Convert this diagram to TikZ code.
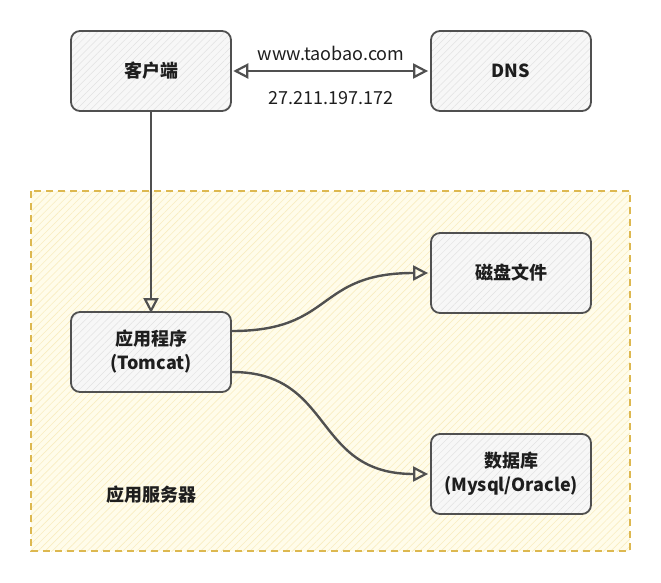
\documentclass[tikz,border=0pt]{standalone}
\usepackage{fontspec}
\setmainfont{Noto Sans CJK SC}
\usetikzlibrary{arrows.meta,patterns.meta}
\definecolor{strokegray}{HTML}{505050}
\definecolor{boxfill}{HTML}{F7F7F7}
\definecolor{boxhatch}{HTML}{E2E2E2}
\definecolor{zonefill}{HTML}{FFFCEA}
\definecolor{zonehatch}{HTML}{F9EDC0}
\definecolor{zoneline}{HTML}{DDB850}
\definecolor{txt}{HTML}{1E1E1E}
\tikzset{
  sketchbox/.style={draw=strokegray, line width=1.8pt, rounded corners=9pt,
    minimum width=160pt, minimum height=80pt, inner sep=0pt,
    preaction={fill=boxfill},
    pattern={Lines[angle=45,distance=5pt,line width=0.5pt]}, pattern color=boxhatch,
    font=\fontsize{18pt}{24pt}\selectfont\bfseries, text=txt, align=center},
  conn/.style={draw=strokegray, line width=2.4pt, -{Triangle[open,length=15pt,width=15pt,line width=2.2pt]}},
  lbl/.style={font=\fontsize{18pt}{20pt}\selectfont, text=txt, inner sep=0pt}
}
\begin{document}
\begin{tikzpicture}[x=1pt,y=-1pt]
\useasboundingbox (0,0) rectangle (661,582);
% zone
\path[preaction={fill=zonefill},
  pattern={Lines[angle=45,distance=5pt,line width=0.6pt]}, pattern color=zonehatch]
  (31,191) rectangle (630,551);
\draw[zoneline, line width=1.5pt, dash pattern=on 7pt off 5pt] (31,191) rectangle (630,551);
\node[font=\fontsize{18pt}{22pt}\selectfont\bfseries, text=txt] (zone) at (151,495) {应用服务器};
% boxes
\node[sketchbox] (client) at (151,71) {客户端};
\node[sketchbox] (dns) at (511,71) {DNS};
\node[sketchbox] (app) at (151,352) {应用程序\\(Tomcat)};
\node[sketchbox] (disk) at (511,273) {磁盘文件};
\node[sketchbox] (db) at (511,474) {数据库\\(Mysql/Oracle)};
% connectors
\draw[draw=strokegray, line width=2.4pt,
  {Triangle[open,length=15pt,width=15pt,line width=2.2pt]}-{Triangle[open,length=15pt,width=15pt,line width=2.2pt]}]
  ([xshift=2pt]client.east) -- ([xshift=-2pt]dns.west);
\node[lbl] (url) at (331,53) {www.taobao.com};
\node[lbl] (ip) at (331,98) {27.211.197.172};
\draw[conn] (client.south) -- ([yshift=-2pt]app.north);
\coordinate (a1) at (232,331);
\coordinate (a2) at (232,372);
\draw[conn] (a1) .. controls (335,331) and (315,273) .. ([xshift=-2pt]disk.west);
\draw[conn] (a2) .. controls (335,372) and (312,474) .. ([xshift=-2pt]db.west);
\end{tikzpicture}
\end{document}
